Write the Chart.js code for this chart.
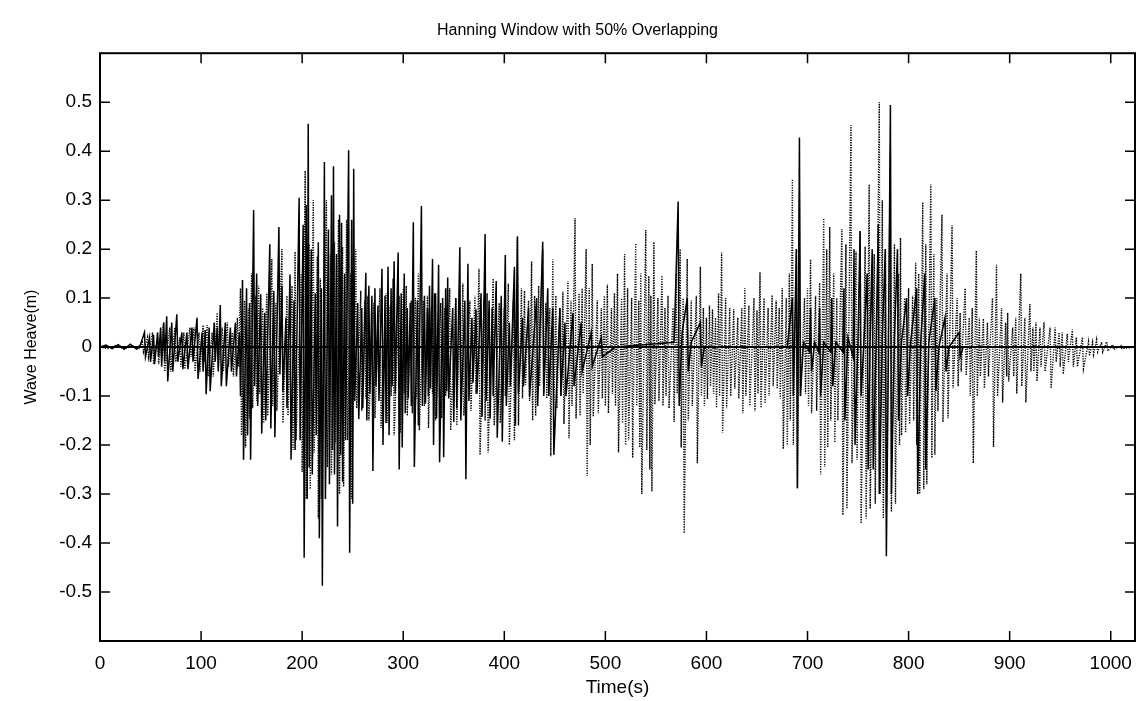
<!DOCTYPE html>
<html>
<head>
<meta charset="utf-8">
<script src="https://cdn.jsdelivr.net/npm/chart.js@4.4.1/dist/chart.umd.min.js"></script>
<style>
  html, body { margin: 0; padding: 0; background: #fff; }
  #wrap { width: 1138px; height: 701px; }
</style>
</head>
<body>
<div id="wrap"><canvas id="heaveChart" width="1138" height="701"></canvas></div>
<script>
// Hanning-windowed wave heave, 50% overlapping segments
// solid segments: time (s) and heave (m) of each crest / trough
const solidTime = [0, 6, 12, 18, 24, 30, 36, 40,
  44, 45, 49, 50, 53, 54, 57, 58, 60, 61, 63, 64, 66, 67, 71, 72, 76, 77, 81, 82, 86, 87,
  91, 92, 96, 97, 101, 102, 104, 105, 108, 109, 113, 114, 116, 117, 119, 120, 124, 125, 129, 130,
  134, 135, 138, 139,
  141, 142, 145, 146, 148, 149, 152, 153, 155, 156, 159, 160, 163, 164, 168, 169, 172, 173, 177, 178,
  180, 181, 184, 185, 188, 189, 192, 193, 197, 198, 201, 202, 204, 205, 206, 207, 209, 210, 213, 214,
  216, 217, 219, 220, 222, 223, 226, 227, 229, 230, 231, 232, 234, 235, 237, 238, 239, 240, 242, 243,
  246, 247, 249, 250, 251, 252, 255, 256, 259, 260, 263, 264, 266, 267, 269, 270, 272, 273, 275, 276,
  279, 280, 282, 283, 285, 286, 288, 289, 291, 292, 295, 296, 298, 299, 301, 302, 304, 305, 307, 308,
  310, 311, 314, 315, 318, 319, 321, 322, 324, 325, 326, 327, 329, 330, 332, 333, 335, 336, 339, 340,
  342, 343, 344, 345, 349, 350, 352, 353, 356, 357, 361, 362, 364, 365, 368, 369, 372, 373, 377, 378,
  381, 382, 385, 386, 388, 389, 392, 393, 397, 398, 401, 402, 405, 406, 410, 411, 413, 414, 418, 419,
  424, 425, 432, 433, 438, 439, 443, 444, 448, 449, 455, 456, 460, 461, 468, 469, 476, 477, 486, 487,
  496, 497, 510,
  568, 572, 573, 576, 581, 582, 585, 594, 595, 598, 680,
  685, 686, 689, 690, 692, 693, 696, 702, 703, 704, 707, 711, 712, 713, 716, 723, 724, 725, 728, 735,
  736, 737, 740, 745, 746, 747, 750, 752, 753, 756, 759, 760, 762, 764, 765, 768, 770, 771, 774, 777,
  778, 780, 782, 783, 786, 789, 790, 793, 798, 799, 802, 808, 809, 812, 816, 817, 820, 826, 827, 830,
  836, 837, 840, 850, 851, 854, 1024];
const solidHeave = [0, 0.004, -0.003, 0.005, -0.004, 0.006, -0.004, 0.005,
  0.03, -0.02, 0.02, -0.03, 0.025, -0.035, 0.03, -0.02, 0.04, -0.04, 0.05, -0.03, 0.063, -0.07, 0.05, -0.05, 0.067, -0.03, 0.03, -0.045, 0.03, -0.045,
  0.04, -0.03, 0.06, -0.065, 0.03, -0.05, 0.035, -0.096, 0.04, -0.09, 0.05, -0.03, 0.04, -0.05, 0.086, -0.08, 0.05, -0.08, 0.04, -0.05,
  0.05, -0.06, 0.03, -0.1,
  0.137, -0.23, 0.12, -0.18, 0.09, -0.23, 0.28, -0.08, 0.15, -0.12, 0.108, -0.177, 0.07, -0.15, 0.21, -0.166, 0.115, -0.184, 0.245, -0.056,
  0.125, -0.09, 0.06, -0.125, 0.148, -0.23, 0.095, -0.21, 0.305, -0.19, 0.25, -0.43, 0.29, -0.31, 0.456, -0.246, 0.2, -0.26, 0.11, -0.18,
  0.214, -0.39, 0.12, -0.487, 0.378, -0.31, 0.24, -0.28, 0.31, -0.21, 0.369, -0.26, 0.19, -0.366, 0.27, -0.22, 0.254, -0.275, 0.15, -0.19,
  0.402, -0.42, 0.26, -0.32, 0.364, -0.11, 0.09, -0.147, 0.08, -0.125, 0.152, -0.15, 0.125, -0.095, 0.105, -0.253, 0.12, -0.08, 0.085, -0.11,
  0.16, -0.2, 0.105, -0.155, 0.164, -0.18, 0.12, -0.08, 0.175, -0.095, 0.193, -0.25, 0.11, -0.205, 0.15, -0.135, 0.08, -0.105, 0.09, -0.12,
  0.255, -0.245, 0.095, -0.16, 0.288, -0.12, 0.105, -0.115, 0.08, -0.1, 0.125, -0.085, 0.18, -0.2, 0.11, -0.145, 0.168, -0.235, 0.1, -0.225,
  0.12, -0.09, 0.142, -0.105, 0.08, -0.153, 0.1, -0.125, 0.204, -0.15, 0.095, -0.27, 0.17, -0.11, 0.06, -0.073, 0.077, -0.095, 0.11, -0.142,
  0.231, -0.11, 0.095, -0.146, 0.08, -0.1, 0.135, -0.185, 0.105, -0.193, 0.188, -0.12, 0.05, -0.08, 0.164, -0.16, 0.226, -0.095, 0.06, -0.08,
  0.08, -0.1, 0.1, -0.12, 0.215, -0.1, 0.12, -0.1, 0.08, -0.22, 0.08, -0.1, 0.05, -0.1, 0.07, -0.08, 0.05, -0.05, 0.03, -0.04,
  0.02, -0.02, 0,
  0.01, 0.297, -0.12, 0.03, 0.1, -0.05, 0.01, 0.05, -0.04, 0, 0,
  0.1, -0.1, 0.2, -0.288, 0.428, -0.1, 0.01, -0.01, 0.08, -0.05, 0.01, -0.01, 0.08, -0.1, 0.01, -0.01, 0.1, -0.08, 0.01, -0.01,
  0.12, -0.15, 0.02, -0.02, 0.2, -0.2, 0.02, 0.237, -0.1, 0.02, 0.15, -0.25, 0.02, 0.2, -0.25, 0.02, 0.25, -0.3, 0.02, 0.2,
  -0.427, -0.02, 0.494, -0.3, 0.02, 0.2, -0.15, 0.01, 0.1, -0.1, 0.01, 0.12, -0.3, 0.01, 0.15, -0.25, 0.01, 0.1, -0.09, 0,
  0.06, -0.05, 0, 0.03, -0.02, 0, 0];

// dotted segments
const dottedTime = [0, 8, 16, 24, 32, 38,
  42, 43, 47, 48, 52, 53, 57, 58, 63, 64, 69, 70, 74, 75, 79, 80, 83, 84, 89, 90, 93, 94, 98, 99,
  102, 103, 106, 107, 111, 112, 116, 117, 121, 122, 126, 127, 131, 132, 136, 137,
  139, 140, 143, 144, 147, 148, 150, 151, 154, 155, 157, 158, 161, 162, 165, 166, 170, 171, 174, 175,
  180, 181, 185, 186, 190, 191, 193, 194, 199, 200, 203, 204, 207, 208, 211, 212, 215, 216, 218, 219,
  224, 225, 228, 229, 232, 233, 236, 237, 240, 241, 244, 245, 248, 249, 253, 254, 258, 259, 262, 263,
  265, 266, 271, 272, 277, 278, 283, 284, 287, 288, 290, 291, 296, 297, 300, 301, 303, 304, 308, 309,
  312, 313, 315, 316, 320, 321, 324, 325, 328, 329, 331, 332, 337, 338, 341, 342, 346, 347, 352, 353,
  356, 357, 359, 360, 366, 367, 371, 372, 375, 376, 380, 381, 383, 384, 389, 390, 395, 396, 400, 401,
  404, 405, 409, 410,
  413, 414, 417, 418, 420, 421, 424, 425, 427, 428, 430, 431, 434, 435, 438, 439, 441, 442, 445, 446,
  448, 449, 451, 452, 455, 456, 458, 459, 463, 464, 466, 467, 470, 471, 474, 475, 477, 478, 481, 482,
  484, 485, 487, 488, 492, 493, 496, 497, 499, 500, 502, 503, 506, 507, 509, 510, 512, 513, 516, 517,
  519, 520, 522, 523, 526, 527, 530, 531, 533, 534, 535, 536, 540, 541, 543, 544, 545, 546, 548, 549,
  552, 553, 556, 557, 559, 560, 562, 563, 567, 568, 570, 571, 574, 575, 577, 578, 581, 582, 585, 586,
  590, 591, 594, 595, 597, 598, 600, 601, 603, 604, 606, 607, 609, 610, 612, 613, 615, 616, 619, 620,
  623, 624, 627, 628, 631, 632, 635, 636, 638, 639, 642, 643, 647, 648, 650, 651, 653, 654, 657, 658,
  661, 662, 665, 666, 669, 670, 672, 673, 675, 676, 679, 680, 682, 683, 685, 686, 689, 690, 692, 693,
  697, 698, 700, 701, 703, 704, 708, 709, 712, 713, 716, 717, 719, 720, 722, 723, 726, 727, 729, 730,
  734, 735, 738, 739, 743, 744, 748, 749, 752, 753, 757, 758, 761, 762, 766, 767, 771, 772, 774, 775,
  777, 778, 782, 783, 786, 787, 790, 791, 792, 793, 796, 797, 800, 801, 804, 805, 807, 808, 810, 811,
  814, 815, 817, 818, 822, 823, 825, 826, 828, 829, 833, 834, 838, 839, 843, 844, 848, 849, 851, 852,
  856, 857, 860, 861, 863, 864, 867, 868, 870, 871, 874, 875, 878, 879, 883, 884, 887, 888, 892, 893,
  896, 897, 898, 899, 903, 904, 906, 907, 911, 912, 915, 916, 920, 921, 923, 924, 926, 927, 930, 931,
  934, 935, 940, 941, 945, 946, 949, 950, 952, 953, 957, 958, 962, 963, 966, 967, 972, 973, 978, 979,
  982, 983, 986, 987, 991, 992, 996, 997, 1002, 1003, 1010, 1011, 1024];
const dottedHeave = [0, -0.003, 0.004, -0.004, 0.003, -0.005,
  0.01, -0.01, 0.02, -0.02, 0.03, -0.035, 0.02, -0.035, 0.05, -0.05, 0.04, -0.05, 0.04, -0.03, 0.02, -0.04, 0.03, -0.045, 0.04, -0.02, 0.04, -0.05, 0.03, -0.05,
  0.045, -0.03, 0.045, -0.06, 0.03, -0.06, 0.07, -0.04, 0.04, -0.05, 0.05, -0.04, 0.03, -0.06, 0.06, -0.04,
  0.12, -0.18, 0.095, -0.205, 0.08, -0.145, 0.15, -0.125, 0.105, -0.11, 0.125, -0.095, 0.08, -0.155, 0.11, -0.14, 0.18, -0.12, 0.09, -0.13,
  0.2, -0.155, 0.105, -0.14, 0.125, -0.21, 0.195, -0.19, 0.15, -0.255, 0.36, -0.31, 0.21, -0.29, 0.3, -0.215, 0.185, -0.35, 0.14, -0.31,
  0.3, -0.245, 0.19, -0.26, 0.215, -0.195, 0.26, -0.3, 0.205, -0.285, 0.26, -0.19, 0.15, -0.31, 0.2, -0.125, 0.115, -0.13, 0.095, -0.105,
  0.105, -0.15, 0.09, -0.145, 0.12, -0.165, 0.11, -0.155, 0.085, -0.1, 0.14, -0.18, 0.105, -0.175, 0.12, -0.095, 0.125, -0.14, 0.095, -0.135,
  0.1, -0.105, 0.15, -0.17, 0.095, -0.12, 0.105, -0.165, 0.08, -0.095, 0.11, -0.15, 0.09, -0.145, 0.08, -0.1, 0.12, -0.17, 0.1, -0.16,
  0.08, -0.11, 0.13, -0.14, 0.095, -0.13, 0.105, -0.095, 0.16, -0.22, 0.1, -0.15, 0.11, -0.215, 0.14, -0.16, 0.09, -0.155, 0.08, -0.1,
  0.13, -0.2, 0.095, -0.19,
  0.226, -0.16, 0.12, -0.105, 0.115, -0.077, 0.095, -0.11, 0.175, -0.15, 0.105, -0.14, 0.125, -0.08, 0.2, -0.095, 0.09, -0.105, 0.08, -0.223,
  0.179, -0.13, 0.105, -0.125, 0.08, -0.1, 0.113, -0.157, 0.135, -0.186, 0.095, -0.12, 0.263, -0.146, 0.11, -0.14, 0.12, -0.095, 0.2, -0.263,
  0.12, -0.2, 0.17, -0.142, 0.095, -0.135, 0.08, -0.105, 0.105, -0.12, 0.128, -0.135, 0.08, -0.095, 0.11, -0.12, 0.15, -0.215, 0.1, -0.155,
  0.19, -0.2, 0.12, -0.19, 0.1, -0.226, 0.212, -0.12, 0.095, -0.205, 0.15, -0.30, 0.239, -0.21, 0.145, -0.25, 0.105, -0.295, 0.215, -0.117,
  0.1, -0.11, 0.146, -0.12, 0.08, -0.1, 0.105, -0.125, 0.08, -0.153, 0.15, -0.095, 0.2, -0.205, 0.1, -0.38, 0.18, -0.15, 0.095, -0.12,
  0.105, -0.237, 0.164, -0.1, 0.08, -0.12, 0.06, -0.106, 0.085, -0.08, 0.077, -0.095, 0.06, -0.124, 0.11, -0.1, 0.193, -0.175, 0.1, -0.125,
  0.08, -0.1, 0.077, -0.085, 0.06, -0.105, 0.08, -0.135, 0.12, -0.1, 0.085, -0.12, 0.1, -0.131, 0.075, -0.095, 0.153, -0.124, 0.1, -0.115,
  0.08, -0.1, 0.106, -0.08, 0.095, -0.085, 0.08, -0.105, 0.12, -0.208, 0.1, -0.2, 0.15, -0.15, 0.343, -0.2, 0.2, -0.288, 0.3, -0.1,
  0.1, -0.095, 0.12, -0.12, 0.179, -0.135, 0.105, -0.13, 0.131, -0.26, 0.263, -0.245, 0.2, -0.205, 0.245, -0.15, 0.15, -0.195, 0.1, -0.15,
  0.241, -0.343, 0.21, -0.33, 0.453, -0.237, 0.195, -0.23, 0.237, -0.36, 0.205, -0.35, 0.332, -0.33, 0.19, -0.32, 0.50, -0.3, 0.3, -0.35,
  0.2, -0.34, 0.4, -0.336, 0.21, -0.32, 0.15, -0.2, 0.223, -0.18, 0.1, -0.175, 0.12, -0.157, 0.105, -0.15, 0.172, -0.2, 0.15, -0.30,
  0.296, -0.29, 0.21, -0.28, 0.332, -0.226, 0.19, -0.22, 0.1, -0.131, 0.27, -0.153, 0.15, -0.145, 0.248, -0.084, 0.1, -0.08, 0.07, -0.05,
  0.12, -0.058, 0.06, -0.1, 0.08, -0.237, 0.197, -0.1, 0.06, -0.06, 0.058, -0.084, 0.05, -0.06, 0.1, -0.204, 0.168, -0.1, 0.08, -0.113,
  0.05, -0.06, 0.07, -0.07, 0.04, -0.06, 0.06, -0.095, 0.15, -0.08, 0.06, -0.113, 0.088, -0.05, 0.04, -0.05, 0.05, -0.07, 0.04, -0.04,
  0.051, -0.05, 0.04, -0.084, 0.04, -0.03, 0.03, -0.04, 0.03, -0.055, 0.027, -0.03, 0.036, -0.04, 0.02, -0.04, 0.02, -0.044, 0.011, -0.018,
  0.01, -0.015, 0.015, -0.01, 0.01, -0.01, 0.011, -0.008, 0.005, -0.005, 0.003, -0.003, 0];

// resting (zero-weight) parts of the windows
const restTime = [0, 1024];
const restHeave = [0, 0];

const xTicks = [0, 100, 200, 300, 400, 500, 600, 700, 800, 900, 1000];
const yTicks = [-0.5, -0.4, -0.3, -0.2, -0.1, 0, 0.1, 0.2, 0.3, 0.4, 0.5];

const toPoints = (t, v) => t.map((x, i) => ({ x: x, y: v[i] }));

// MATLAB-style box with inward ticks on all four sides
const boxTicks = {
    id: 'boxTicks',
    afterDraw(chart) {
        const { ctx, chartArea: a, scales } = chart;
        const len = 10;
        ctx.save();
        ctx.strokeStyle = '#000';
        ctx.lineWidth = 2;
        ctx.strokeRect(a.left, a.top, a.right - a.left, a.bottom - a.top);
        ctx.lineWidth = 1.5;
        ctx.beginPath();
        xTicks.forEach(v => {
            const px = scales.x.getPixelForValue(v);
            ctx.moveTo(px, a.bottom); ctx.lineTo(px, a.bottom - len);
            ctx.moveTo(px, a.top); ctx.lineTo(px, a.top + len);
        });
        yTicks.forEach(v => {
            const py = scales.y.getPixelForValue(v);
            ctx.moveTo(a.left, py); ctx.lineTo(a.left + len, py);
            ctx.moveTo(a.right, py); ctx.lineTo(a.right - len, py);
        });
        ctx.stroke();
        ctx.restore();
    }
};

const font = '"Liberation Sans", Arial, sans-serif';

new Chart(document.getElementById('heaveChart').getContext('2d'), {
    type: 'line',
    data: {
        datasets: [
            { label: 'rest', data: toPoints(restTime, restHeave), borderColor: '#000', borderWidth: 2, pointRadius: 0 },
            { label: 'solid', data: toPoints(solidTime, solidHeave), borderColor: '#000', borderWidth: 1.5, pointRadius: 0, tension: 0 },
            { label: 'dotted', data: toPoints(dottedTime, dottedHeave), borderColor: '#000', borderWidth: 1.4, borderDash: [1.2, 1.3], pointRadius: 0, tension: 0 }
        ]
    },
    options: {
        responsive: false,
        animation: false,
        layout: { padding: { left: 20, right: 3, top: 0, bottom: 0 } },
        plugins: {
            legend: { display: false },
            tooltip: { enabled: false },
            title: {
                display: true,
                text: 'Hanning Window with 50% Overlapping',
                color: '#000',
                font: { family: font, size: 16, weight: 'normal' },
                padding: { top: 21, bottom: 13 }
            }
        },
        scales: {
            x: {
                type: 'linear',
                min: 0, max: 1024,
                afterBuildTicks: s => { s.ticks = xTicks.map(v => ({ value: v })); },
                afterFit: s => { s.height = 60; s.paddingLeft = 0; s.paddingRight = 0; },
                grid: { display: false, drawTicks: false },
                border: { display: false },
                ticks: { color: '#000', font: { family: font, size: 19 }, padding: 11, maxRotation: 0, autoSkip: false,
                    callback: v => String(v) },
                title: { display: true, text: 'Time(s)', color: '#000', font: { family: font, size: 19 }, padding: { top: 0, bottom: 2 } }
            },
            y: {
                type: 'linear',
                min: -0.6, max: 0.6,
                afterBuildTicks: s => { s.ticks = yTicks.map(v => ({ value: v })); },
                afterFit: s => { s.width = 80; s.paddingTop = 0; s.paddingBottom = 0; },
                grid: { display: false, drawTicks: false },
                border: { display: false },
                ticks: {
                    color: '#000', font: { family: font, size: 19 }, padding: 8, autoSkip: false,
                    callback: v => Math.abs(v) < 1e-9 ? '0' : v.toFixed(1)
                },
                title: { display: true, text: 'Wave Heave(m)', color: '#000', font: { family: font, size: 16 }, padding: { top: 2, bottom: 0 } }
            }
        }
    },
    plugins: [boxTicks]
});
</script>
</body>
</html>
